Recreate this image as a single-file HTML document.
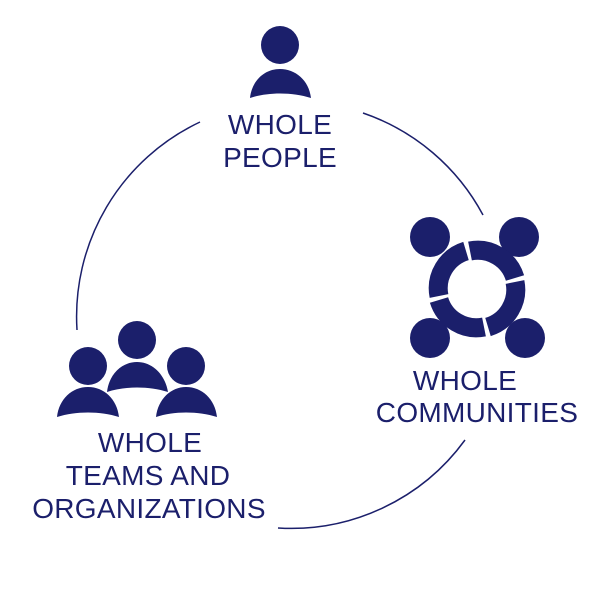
<!DOCTYPE html>
<html><head><style>
html,body{margin:0;padding:0;background:#fff;}
svg{display:block}
text{font-family:"Liberation Sans",sans-serif;fill:#1b1f6b;font-size:28px;text-anchor:middle;letter-spacing:0.3px}
</style></head><body>
<svg width="600" height="600" viewBox="0 0 600 600" xmlns="http://www.w3.org/2000/svg">
<g fill="none" stroke="#1b1f6b" stroke-width="1.5">
<path d="M200,122 A215,215 0 0 0 77,330"/>
<path d="M363,113 A215,215 0 0 1 483,215"/>
<path d="M465,440 A215,215 0 0 1 278,528"/>
</g>
<g fill="#1b1f6b">
<circle cx="280" cy="45" r="19"/>
<path d="M250,98 C252,80 265,69 280,69 C295,69 309,80 311,98 C292,92 268,92 250,98 Z"/>
<circle cx="137" cy="340" r="19"/>
<path d="M107,392 C109,374 122,362 137,362 C152,362 165,374 168,392 C149,386 125,386 107,392 Z"/>
<circle cx="88" cy="366" r="19"/>
<path d="M57,417 C59,399 72,387 88,387 C104,387 117,399 119,417 C100,411 76,411 57,417 Z"/>
<circle cx="186" cy="366" r="19"/>
<path d="M156,417 C158,399 171,387 186,387 C202,387 215,399 217,417 C198,411 174,411 156,417 Z"/>
<circle cx="430" cy="237" r="20"/>
<circle cx="519" cy="237" r="20"/>
<circle cx="430" cy="338" r="20"/>
<circle cx="525" cy="338" r="20"/>
</g>
<g fill="none" stroke="#1b1f6b" stroke-width="19">
<g id="seg"><path d="M439,296 A39,39 0 0 1 466,251"/></g>
<use href="#seg" transform="rotate(90 477 289)"/>
<use href="#seg" transform="rotate(180 477 289)"/>
<use href="#seg" transform="rotate(270 477 289)"/>
</g>
<text x="280" y="134">WHOLE</text>
<text x="280" y="167">PEOPLE</text>
<text x="465" y="390">WHOLE</text>
<text x="477" y="422">COMMUNITIES</text>
<text x="150" y="452">WHOLE</text>
<text x="148" y="485">TEAMS AND</text>
<text x="149" y="518">ORGANIZATIONS</text>
</svg>
</body></html>
